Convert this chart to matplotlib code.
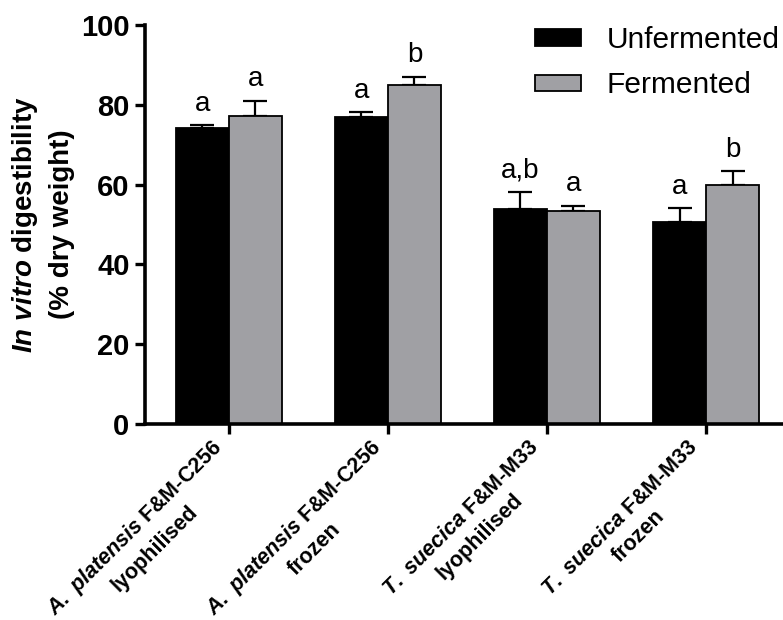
import matplotlib
matplotlib.use("Agg")
import matplotlib.pyplot as plt
import numpy as np
from matplotlib.patches import Patch

plt.rcParams['font.family'] = ['Liberation Sans', 'DejaVu Sans']
plt.rcParams['mathtext.fontset'] = 'custom'
plt.rcParams['mathtext.it'] = 'Liberation Sans:italic:bold'
plt.rcParams['mathtext.rm'] = 'Liberation Sans:bold'
plt.rcParams['mathtext.bf'] = 'Liberation Sans:bold'

# data
categories = [
    r'$\mathit{A.\ platensis}$ F&M-C256' + '\nlyophilised',
    r'$\mathit{A.\ platensis}$ F&M-C256' + '\nfrozen',
    r'$\mathit{T.\ suecica}$ F&M-M33' + '\nlyophilised',
    r'$\mathit{T.\ suecica}$ F&M-M33' + '\nfrozen',
]
unfermented = [74.1, 77.0, 53.9, 50.5]
unfermented_err = [0.8, 1.1, 4.3, 3.6]
fermented = [77.2, 85.0, 53.3, 59.9]
fermented_err = [3.8, 2.0, 1.4, 3.5]
unfermented_letters = ['a', 'a', 'a,b', 'a']
fermented_letters = ['a', 'b', 'a', 'b']
yticks = [0, 20, 40, 60, 80, 100]

BLACK = '#000000'
GREY = '#a0a0a4'


def draw_bars(ax, x, values, errs, letters, color):
    width = 1 / 3
    ax.bar(x, values, width, color=color, edgecolor='black', linewidth=1.3, zorder=2)
    ax.errorbar(x, values, yerr=[np.zeros(len(errs)), errs], fmt='none',
                ecolor='black', elinewidth=1.6, capsize=8.5, capthick=1.6, zorder=1)
    for xi, v, e, lab in zip(x, values, errs, letters):
        ax.annotate(lab, (xi, v + e), xytext=(0, 6), textcoords='offset points',
                    ha='center', va='bottom', fontsize=20)


def main():
    fig = plt.figure(figsize=(7.83, 6.2), dpi=100)
    ax = fig.add_axes([0.185, 0.316, 0.815, 0.644])

    x = np.arange(len(categories))
    draw_bars(ax, x - 1 / 6, unfermented, unfermented_err, unfermented_letters, BLACK)
    draw_bars(ax, x + 1 / 6, fermented, fermented_err, fermented_letters, GREY)

    ax.set_xlim(-0.528, 3.484)
    ax.set_ylim(0, 100)
    ax.set_yticks(yticks)
    ax.set_yticklabels([str(t) for t in yticks], fontsize=21, fontweight='bold')
    ax.set_xticks(x)
    ax.set_xticklabels([])
    # category labels drawn as annotations so they can sit left of the ticks
    for xi, cat in zip(x, categories):
        ax.annotate(cat, (xi, 0), xycoords=('data', 'axes fraction'),
                    xytext=(-13.5, -8.4), textcoords='offset points',
                    rotation=45, rotation_mode='anchor', ha='right', va='top',
                    multialignment='center', linespacing=1.35,
                    fontsize=15.5, fontweight='bold', annotation_clip=False)

    for side in ['top', 'right']:
        ax.spines[side].set_visible(False)
    for side in ['left', 'bottom']:
        ax.spines[side].set_linewidth(2.6)
    ax.tick_params(axis='both', direction='out', width=2.4, length=7, pad=4)

    ax.set_ylabel(r'$\mathit{In\ vitro}$ digestibility' + '\n(% dry weight)',
                  fontsize=20, fontweight='bold', linespacing=1.45)
    ax.yaxis.set_label_coords(-0.11, 0.5)

    handles = [Patch(facecolor=BLACK, edgecolor='black', linewidth=1.3),
               Patch(facecolor=GREY, edgecolor='black', linewidth=1.3)]
    fig.legend(handles, ['Unfermented', 'Fermented'], loc='upper left',
               bbox_to_anchor=(0.683, 0.958), frameon=False, fontsize=21.5,
               handlelength=1.55, handleheight=0.47, handletextpad=0.85,
               labelspacing=0.58, borderpad=0, borderaxespad=0)

    fig.savefig('out.png', dpi=100)


if __name__ == '__main__':
    main()
